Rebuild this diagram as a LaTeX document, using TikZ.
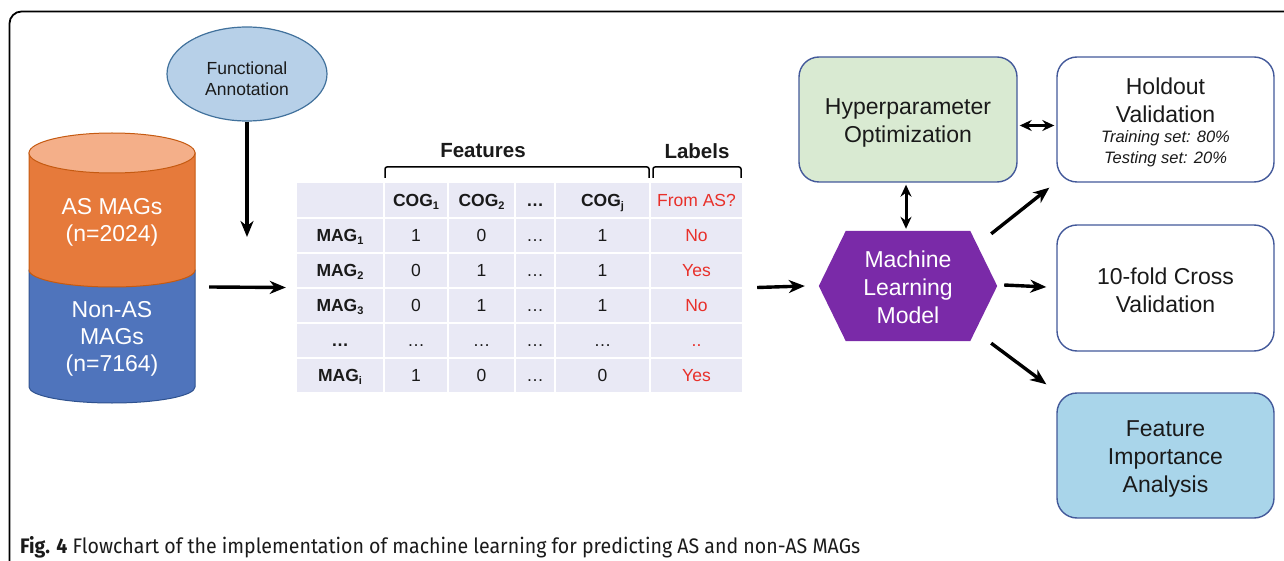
\documentclass[tikz,border=0pt]{standalone}
\usepackage{graphicx}
\usepackage{fontspec}
\setmainfont{Liberation Sans}
\newfontfamily\capfont{Fira Sans}
\usetikzlibrary{arrows.meta,shapes.geometric,fit}
\definecolor{faFill}{HTML}{B7D0E8}
\definecolor{faLine}{HTML}{41719C}
\definecolor{orTop}{HTML}{F4AF89}
\definecolor{orBody}{HTML}{E67A3B}
\definecolor{orLine}{HTML}{C55A11}
\definecolor{blBody}{HTML}{4F74BC}
\definecolor{blLine}{HTML}{2F528F}
\definecolor{cellFill}{HTML}{E9E9F5}
\definecolor{redTxt}{HTML}{E8302A}
\definecolor{hexFill}{HTML}{7A2AA8}
\definecolor{hypFill}{HTML}{D9EAD2}
\definecolor{boxLine}{HTML}{43599A}
\definecolor{featFill}{HTML}{A9D5EA}
\definecolor{txt}{HTML}{1A1A1A}
\newcommand\sbs[1]{\raisebox{-0.35ex}{\fontsize{11}{11}\selectfont #1}}
\newcommand\fsz[2]{\fontsize{#1}{#2}\selectfont}
\tikzset{
  arr/.style={line width=3.4pt, -{Stealth[length=16pt,width=13pt,inset=5pt]}},
  darr/.style={line width=3pt, {Stealth[length=12pt,width=11pt,inset=4pt]}-{Stealth[length=12pt,width=11pt,inset=4pt]}},
  cell/.style={fill=cellFill, inner sep=0pt, outer sep=0pt},
  ctxt/.style={inner sep=0pt, text=txt, font=\fsz{17.5}{20}, text height=12.5pt, text depth=0pt},
  btxt/.style={inner sep=0pt, text=txt, font=\fsz{17.5}{20}\bfseries, text height=12.5pt, text depth=0pt},
  rtxt/.style={inner sep=0pt, text=redTxt, font=\fsz{17.5}{20}, text height=12.5pt, text depth=0pt},
  rbox/.style={draw=boxLine, line width=1.4pt, rounded corners=20pt, minimum width=217pt, minimum height=125pt, inner sep=0pt, text=txt, align=center, font=\fsz{23}{28}},
  btext/.style={inner sep=0pt, text=txt, align=center, font=\fsz{23}{28}},
  brk/.style={line width=1.5pt, rounded corners=2pt},
}
\begin{document}
\begin{tikzpicture}[x=1pt,y=1pt]
\useasboundingbox (0,0) rectangle (1284,-561);
% frame
\draw[line width=1.8pt, rounded corners=12pt] (9.5,-561) -- (9.5,-11.5) -- (1284,-11.5);

% functional annotation
\node[ellipse, draw=faLine, line width=1.2pt, fill=faFill, minimum width=160pt, minimum height=94pt, inner sep=0pt] (fa) at (247,-74) {};
\node[inner sep=0pt, align=center, text=txt, font=\fsz{17.5}{21}] (fatxt) at (247,-79) {Functional\\Annotation};
\coordinate (faend) at (247,-237);
\draw[arr] (fa.south) -- (faend);

% cylinder
\path[fill=blBody, draw=blLine, line width=1pt] (29,-270) -- (29,-387) arc[start angle=180, end angle=360, x radius=83, y radius=16] -- (195,-270) -- cycle;
\path[fill=orBody, draw=orLine, line width=1pt] (29,-153) -- (29,-270) arc[start angle=180, end angle=360, x radius=83, y radius=17] -- (195,-153) -- cycle;
\path[fill=orTop, draw=orLine, line width=1pt] (112,-153) ellipse[x radius=83, y radius=20];
\node[inner sep=0pt, minimum width=166pt, minimum height=270pt] (cyl) at (112,-268) {};
\node[text=white, align=center, font=\fsz{23}{27}] (asmag) at (112,-222) {AS MAGs\\(n=2024)};
\node[text=white, align=center, font=\fsz{23}{27}] (nonas) at (112,-339) {Non-AS\\MAGs\\(n=7164)};

% table cells
\foreach \x/\w [count=\i] in {340/86,416/62,481.5/65,535/38,602.5/93,696.5/91}
  \foreach \y/\h [count=\j] in {200/34,235.5/33,270.5/33,305.5/33,340.5/33,375.5/33}
    \node[cell, minimum width=\w pt, minimum height=\h pt] (c-\j-\i) at (\x,-\y) {};
\node[fit=(c-1-1)(c-6-6), inner sep=0pt] (tab) {};

% table texts
\node[btxt] at (c-1-2) {COG\sbs{1}};
\node[btxt] at (c-1-3) {COG\sbs{2}};
\node[btxt] at (c-1-4) {…};
\node[btxt] at (c-1-5) {COG\sbs{j}};
\node[rtxt] at (c-1-6) {From AS?};
\foreach \a/\b/\c/\d/\e [count=\r from 2] in {1/1/0/1/No, 2/0/1/1/Yes, 3/0/1/1/No}{
  \node[btxt] at (c-\r-1) {MAG\sbs{\a}};
  \node[ctxt] at (c-\r-2) {\b};
  \node[ctxt] at (c-\r-3) {\c};
  \node[ctxt] at (c-\r-4) {…};
  \node[ctxt] at (c-\r-5) {\d};
  \node[rtxt] at (c-\r-6) {\e};
}
\node[btxt] at (c-5-1) {…};
\foreach \k in {2,3,4,5} \node[ctxt] at (c-5-\k) {…};
\node[rtxt] at (c-5-6) {..};
\node[btxt] at (c-6-1) {MAG\sbs{i}};
\node[ctxt] at (c-6-2) {1};
\node[ctxt] at (c-6-3) {0};
\node[ctxt] at (c-6-4) {…};
\node[ctxt] at (c-6-5) {0};
\node[rtxt] at (c-6-6) {Yes};

% brackets and headers
\draw[brk] ([yshift=5pt]c-1-2.north west) -- ([yshift=16pt]c-1-2.north west) -- ([yshift=16pt]c-1-5.north east) -- ([yshift=5pt]c-1-5.north east);
\draw[brk] ([xshift=2pt,yshift=5pt]c-1-6.north west) -- ([xshift=2pt,yshift=16pt]c-1-6.north west) -- ([xshift=-1pt,yshift=16pt]c-1-6.north east) -- ([xshift=-1pt,yshift=5pt]c-1-6.north east);
\node[inner sep=0pt, text=txt, font=\fsz{20.5}{24}\bfseries] (feat) at (483,-151) {Features};
\node[inner sep=0pt, text=txt, font=\fsz{20.5}{24}\bfseries] (lab) at (697,-151) {Labels};

% input arrow
\draw[arr] ([xshift=14pt,yshift=-19pt]cyl.east) -- ([xshift=-11pt]tab.west);

% machine learning hexagon
\node[inner sep=0pt, minimum width=178pt, minimum height=110pt] (ml) at (908,-286) {};
\path[fill=hexFill] (ml.west) -- ([xshift=27pt]ml.north west) -- ([xshift=-27pt]ml.north east) -- (ml.east) -- ([xshift=-27pt]ml.south east) -- ([xshift=27pt]ml.south west) -- cycle;
\node[text=white, align=center, font=\fsz{23}{28}] (mltxt) at ([yshift=-1pt]ml.center) {Machine\\Learning\\Model};
\draw[arr] ([xshift=15pt]tab.east) -- ([xshift=-14pt]ml.west);

% right boxes
\node[rbox, fill=hypFill, minimum width=218pt] (hyp) at (908,-119.5) {};
\node[btext] (hyptxt) at (908,-122.5) {Hyperparameter\\Optimization};
\node[rbox, fill=white] (hold) at (1165.5,-119.5) {};
\node[btext] (holdt) at (1165.5,-100) {Holdout\\Validation};
\node[inner sep=0pt, align=center, text=txt, font=\fsz{16.5}{21}\itshape] (holds) at (1165.5,-149) {Training set: 80\%\\Testing set: 20\%};
\node[rbox, fill=white, minimum height=126pt] (cross) at (1165.5,-288) {};
\node[btext] (crosstxt) at (1165.5,-290) {10-fold Cross\\Validation};
\node[rbox, fill=featFill] (fimp) at (1165.5,-455.5) {};
\node[btext] (fimptxt) at (1165.5,-459) {Feature\\Importance\\Analysis};

% connectors
\draw[darr] ([xshift=-2pt,yshift=-2pt]hyp.south) -- ([xshift=-2pt,yshift=2pt]ml.north);
\draw[darr] ([xshift=2pt,yshift=-6pt]hyp.east) -- ([xshift=-2pt,yshift=-6pt]hold.west);
\draw[arr] ([xshift=-6pt,yshift=-3pt]ml.north east) -- ([xshift=-7pt,yshift=-5pt]hold.south west);
\draw[arr] ([xshift=7pt,yshift=1pt]ml.east) -- ([xshift=-10pt,yshift=1pt]cross.west);
\draw[arr] ([xshift=-6pt,yshift=-2pt]ml.south east) -- ([xshift=-10pt,yshift=8pt]fimp.north west);

% caption
\node[anchor=base west, inner sep=0pt, text=txt] (cap) at (20,-553) {\resizebox{840pt}{\height}{\capfont\fsz{21}{21}\textbf{Fig. 4} Flowchart of the implementation of machine learning for predicting AS and non-AS MAGs}};
\end{tikzpicture}
\end{document}
